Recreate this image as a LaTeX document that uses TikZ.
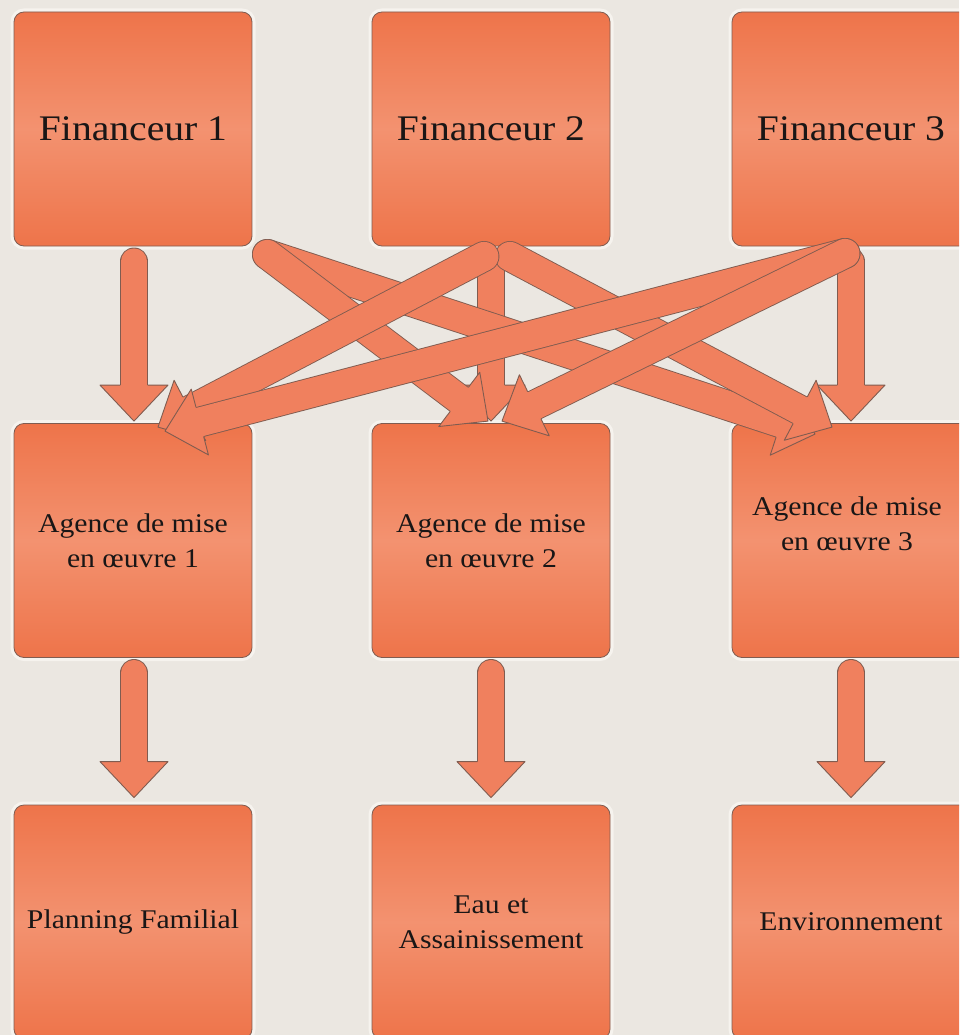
\documentclass[tikz,border=0pt]{standalone}
\usepackage{fontspec}
\setmainfont[FakeStretch=1.1]{Liberation Serif}
\usetikzlibrary{calc}
\definecolor{bg}{RGB}{235,231,225}
\definecolor{boxA}{RGB}{238,116,74}
\definecolor{boxB}{RGB}{243,146,112}
\definecolor{arrowc}{RGB}{240,128,94}
\definecolor{edgec}{RGB}{128,92,80}
\definecolor{glow}{RGB}{246,243,238}
\definecolor{txt}{RGB}{25,22,22}
\tikzset{
  box/.style={rectangle, rounded corners=10pt, minimum width=238pt, minimum height=234pt,
    draw=edgec, line width=0.8pt, top color=boxA, bottom color=boxA, middle color=boxB,
    text=txt, align=center, inner sep=0pt, preaction={draw=glow, line width=7pt}},
  big/.style={font=\fontsize{36}{40}\selectfont},
  small/.style={font=\fontsize{27}{35}\selectfont},
  lbl/.style={text=txt, align=center, inner sep=0pt},
  shaft/.style={draw=edgec, line width=0.9pt, double=arrowc, line cap=round},
  head/.style={draw=edgec, line width=0.9pt, fill=arrowc, line join=round},
}
% #1 = inner shaft width (pt), #2 = start, #3 = tip
\newcommand{\fatarrow}[3][26]{%
  \pgfmathsetmacro{\fahw}{#1/2+0.6}%
  \coordinate (hb) at ($(#3)!36pt!(#2)$);
  \draw[shaft, double distance=#1pt] (#2) -- (hb);
  \draw[head] ($(hb)!\fahw pt!90:(#3)$) -- ($(hb)!34pt!90:(#3)$) -- (#3)
    -- ($(hb)!34pt!-90:(#3)$) -- ($(hb)!\fahw pt!-90:(#3)$);
}
\begin{document}
\begin{tikzpicture}[x=1pt,y=-1pt]
\useasboundingbox (0,0) rectangle (959,1035);
\clip (0,0) rectangle (959,1035);
\fill[bg] (0,0) rectangle (959,1035);

% row 1
\node[box,big] (f1) at (133,129) {Financeur 1};
\node[box,big] (f2) at (491,129) {Financeur 2};
\node[box,big] (f3) at (851,129) {Financeur 3};
% row 2
\node[box,small] (a1) at (133,540.5) {Agence de mise\\en œuvre 1};
\node[box,small] (a2) at (491,540.5) {Agence de mise\\en œuvre 2};
\node[box,small] (a3) at (851,540.5) {};
\node[lbl,small] (a3t) at (847,524) {Agence de mise\\en œuvre 3};
% row 3
\node[box,small] (p1) at (133,922) {Planning Familial};
\node[box,small] (p2) at (491,922) {Eau et\\Assainissement};
\node[box,small] (p3) at (851,922) {Environnement};

% connector ends
\coordinate (f1s) at ($(f1.south)+(1,15)$);
\coordinate (f2s) at ($(f2.south)+(0,15)$);
\coordinate (f3s) at ($(f3.south)+(0,15)$);
\coordinate (a1n) at ($(a1.north)+(1,-2)$);
\coordinate (a2n) at ($(a2.north)+(0,-2)$);
\coordinate (a3n) at ($(a3.north)+(0,-2)$);
\coordinate (f1o) at ($(f1.south east)+(15,8)$);
\coordinate (f2l) at ($(f2.south)+(-7,10)$);
\coordinate (f2r) at ($(f2.south)+(19,10)$);
\coordinate (f3o) at ($(f3.south)+(-6,7)$);
\coordinate (a1r1) at ($(a1.north)+(25,4)$);
\coordinate (a1r2) at ($(a1.north)+(32,8)$);
\coordinate (a2l) at ($(a2.north)+(-3,-2)$);
\coordinate (a2r) at ($(a2.north)+(11,-2)$);
\coordinate (a3l1) at ($(a3.north)+(-36,11)$);
\coordinate (a3l2) at ($(a3.north)+(-19,4)$);
\coordinate (a1s) at ($(a1.south)+(1,15)$);
\coordinate (a2s) at ($(a2.south)+(0,15)$);
\coordinate (a3s) at ($(a3.south)+(0,15)$);
\coordinate (p1n) at ($(p1.north)+(1,-7)$);
\coordinate (p2n) at ($(p2.north)+(0,-7)$);
\coordinate (p3n) at ($(p3.north)+(0,-7)$);

% vertical arrows
\fatarrow{f1s}{a1n}
\fatarrow{f2s}{a2n}
\fatarrow{f3s}{a3n}
% crossing arrows
\fatarrow[29]{f1o}{a3l1}
\fatarrow[29]{f1o}{a2l}
\fatarrow[29]{f2r}{a3l2}
\fatarrow[29]{f2l}{a1r1}
\fatarrow[29]{f3o}{a1r2}
\fatarrow[29]{f3o}{a2r}
% lower arrows
\fatarrow{a1s}{p1n}
\fatarrow{a2s}{p2n}
\fatarrow{a3s}{p3n}
\end{tikzpicture}
\end{document}
